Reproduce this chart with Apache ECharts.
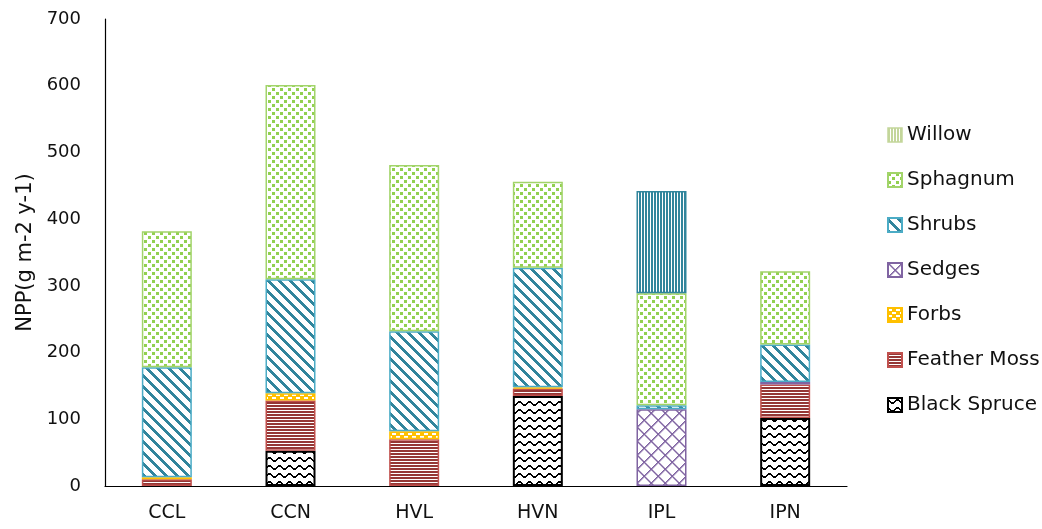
<!DOCTYPE html>
<html>
<head>
<meta charset="utf-8">
<script src="https://cdn.jsdelivr.net/npm/echarts@6/dist/echarts.min.js"></script>
<style>
  html, body { margin: 0; padding: 0; background: #fff; }
  #chart { width: 1042px; height: 529px; }
</style>
</head>
<body>
<div id="chart"></div>
<script>
// Sites and net primary production (g m-2 y-1) by plant group
const categories = ['CCL', 'CCN', 'HVL', 'HVN', 'IPL', 'IPN'];
const blackSpruce = [0, 53, 0, 135, 0, 102];
const featherMoss = [10, 75, 70, 11, 0, 50];
const forbs = [3, 11, 12, 2, 0, 0];
const sedges = [0, 0, 0, 0, 115, 4];
const shrubs = [165, 171, 150, 179, 6, 56];
const sphagnum = [204, 291, 249, 129, 168, 110];
const willow = [0, 0, 0, 0, 153, 0];
const yTicks = [0, 100, 200, 300, 400, 500, 600, 700];

// Small canvas tiles used as hatch fills
function tile(w, h, draw) {
  const c = document.createElement('canvas');
  c.width = w; c.height = h;
  const g = c.getContext('2d');
  g.fillStyle = '#fff';
  g.fillRect(0, 0, w, h);
  draw(g, w, h);
  return { image: c, repeat: 'repeat' };
}
function px(g, color, pts) {
  g.fillStyle = color;
  pts.forEach(p => g.fillRect(p[0], p[1], p[2] || 1, p[3] || 1));
}

const wavePattern = tile(10, 8, (g) => {
  const ys = [0, 1, 2, 3, 3, 3, 2, 1, 0, 0];
  g.fillStyle = '#000';
  ys.forEach((y, x) => g.fillRect(x, y + 1, 1, 2));
});
const linesPattern = tile(4, 3, (g) => px(g, '#953735', [[0, 0, 4, 2]]));
const forbsPattern = tile(8, 6, (g) => {
  g.fillStyle = '#ffc000'; g.fillRect(0, 0, 8, 6);
  px(g, '#fff', [[0, 1, 4, 2], [4, 4, 4, 2]]);
});
const latticePattern = tile(14, 14, (g) => {
  g.fillStyle = '#8064a2';
  for (let i = 0; i < 14; i++) {
    g.fillRect(i, i, 1.5, 1.5);
    g.fillRect(i, 13 - i, 1.5, 1.5);
  }
});
const diagPattern = tile(11, 11, (g) => {
  g.fillStyle = '#31859c';
  for (let x = 0; x < 11; x++) for (let y = 0; y < 11; y++) {
    if (((y - x) % 11 + 11) % 11 < 4) g.fillRect(x, y, 1, 1);
  }
});
const confettiPattern = tile(8, 8, (g) => px(g, '#92d050', [[0, 0, 3, 3], [4, 4, 3, 3]]));
const vertPattern = tile(3, 4, (g) => px(g, '#31859c', [[0, 0, 2, 4]]));
const vertLightPattern = tile(3, 4, (g) => px(g, '#c3d69b', [[0, 0, 2, 4]]));

function dataOf(arr) { return arr.map(v => (v === 0 ? '-' : v)); }

const groups = [
  { name: 'Black Spruce', data: blackSpruce, fill: wavePattern, border: '#000', bw: 2 },
  { name: 'Feather Moss', data: featherMoss, fill: linesPattern, border: '#c0504d', bw: 1.5 },
  { name: 'Forbs', data: forbs, fill: forbsPattern, border: '#ffc000', bw: 1.5 },
  { name: 'Sedges', data: sedges, fill: latticePattern, border: '#8064a2', bw: 1.5 },
  { name: 'Shrubs', data: shrubs, fill: diagPattern, border: '#4bacc6', bw: 1.5 },
  { name: 'Sphagnum', data: sphagnum, fill: confettiPattern, border: '#a2d46a', bw: 1.5 },
  { name: 'Willow', data: willow, fill: vertPattern, border: '#31859c', bw: 1.5 }
];

const textColor = '#111';
const font = 'DejaVu Sans';

const option = {
  animation: false,
  backgroundColor: '#fff',
  grid: { left: 105, right: 195, top: 19, bottom: 43, containLabel: false },
  legend: {
    orient: 'vertical',
    left: 882,
    top: 120,
    itemWidth: 14,
    itemHeight: 14,
    itemGap: 25,
    icon: 'rect',
    textStyle: { fontFamily: font, fontSize: 20, color: textColor, lineHeight: 20 },
    data: [
      { name: 'Willow', itemStyle: { color: vertLightPattern, borderColor: '#c3d69b', borderWidth: 1.5 } },
      'Sphagnum', 'Shrubs', 'Sedges', 'Forbs', 'Feather Moss', 'Black Spruce'
    ]
  },
  xAxis: {
    type: 'category',
    data: categories,
    axisLine: { lineStyle: { color: '#000', width: 1.2 } },
    axisTick: { show: false },
    axisLabel: { fontFamily: font, fontSize: 19, color: textColor, margin: 18 }
  },
  yAxis: {
    type: 'value',
    min: yTicks[0],
    max: yTicks[yTicks.length - 1],
    interval: yTicks[1] - yTicks[0],
    name: 'NPP(g m-2 y-1)',
    nameLocation: 'middle',
    nameGap: 62,
    nameTextStyle: { fontFamily: font, fontSize: 21, color: textColor },
    axisLine: { show: true, lineStyle: { color: '#000', width: 1.2 } },
    axisTick: { show: false },
    splitLine: { show: false },
    axisLabel: { fontFamily: font, fontSize: 18, color: textColor, margin: 24 }
  },
  series: groups.map(s => ({
    name: s.name,
    type: 'bar',
    stack: 'npp',
    barWidth: 50,
    data: dataOf(s.data),
    itemStyle: { color: s.fill, borderColor: s.border, borderWidth: s.bw }
  }))
};

echarts.init(document.getElementById('chart'), null, { renderer: 'canvas' }).setOption(option);
</script>
</body>
</html>
